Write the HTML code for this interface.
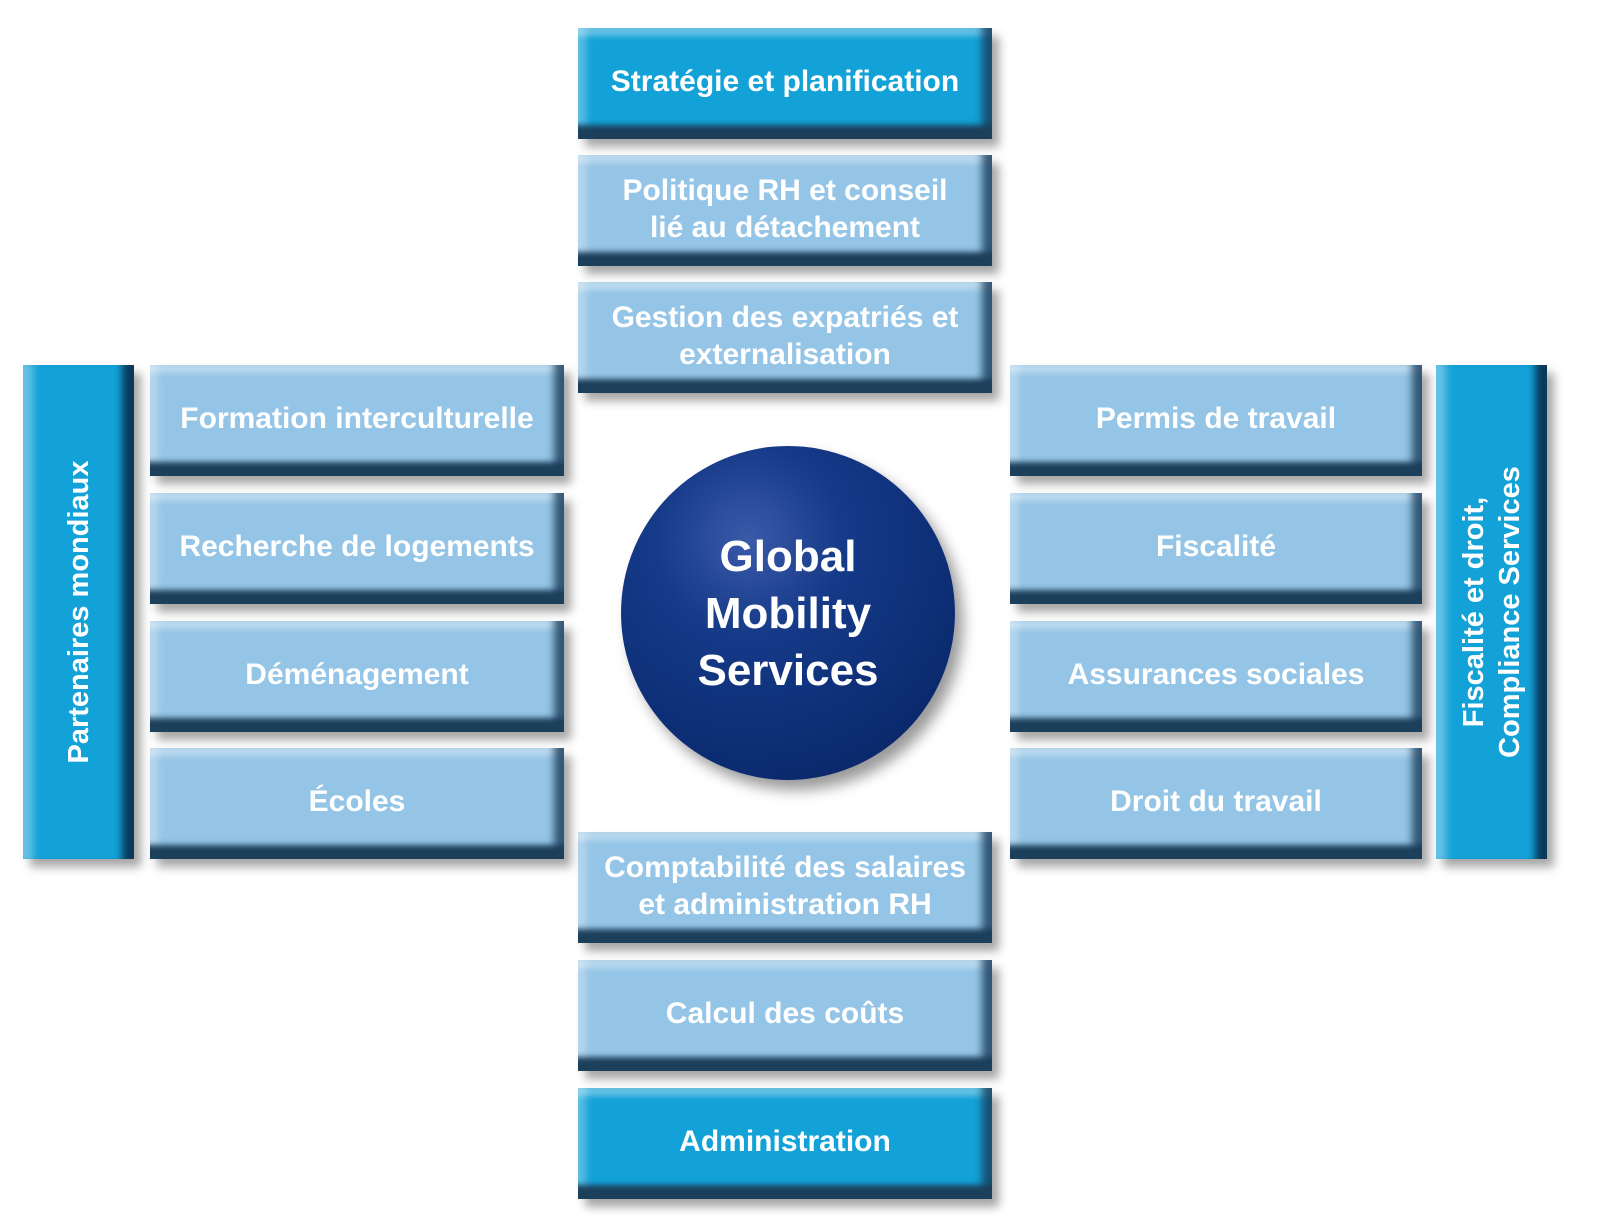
<!DOCTYPE html>
<html><head><meta charset="utf-8"><style>
body{margin:0;width:1610px;height:1221px;background:#fff;position:relative;overflow:hidden;font-family:"Liberation Sans",sans-serif}
.b{position:absolute;display:flex;align-items:center;justify-content:center;text-align:center;color:#fff;font-weight:bold;font-size:30px;line-height:37px;box-sizing:border-box;padding-bottom:4px;
box-shadow:7px 8px 9px rgba(0,0,0,.35),inset 0 -20px 6px -6px #1c3f5a,inset -16px 0 8px -6px rgba(25,60,90,.8),inset 0 12px 6px -4px rgba(255,255,255,.35),inset 14px 0 8px -6px rgba(255,255,255,.3)}
.l{background:#95c5e6}
.d{background:#13a2d8}
.v{position:absolute;background:#13a2d8;box-shadow:7px 8px 9px rgba(0,0,0,.35),inset -18px 0 8px -6px #0b3a5a,inset 16px 0 8px -6px rgba(255,255,255,.35)}
.vt{position:absolute;left:50%;top:50%;transform:translate(-50%,-50%) rotate(-90deg);white-space:nowrap;color:#fff;font-weight:bold;font-size:29px;line-height:36px;text-align:center}
.c{position:absolute;left:621px;top:446px;width:334px;height:334px;border-radius:50%;background:radial-gradient(circle at 38% 28%,#3a5aa8 0%,#153a88 30%,#0c2c72 70%,#08205a 100%);box-shadow:8px 10px 14px rgba(0,0,0,.4);display:flex;align-items:center;justify-content:center;text-align:center;color:#fff;font-weight:bold;font-size:44px;line-height:57px}
</style></head><body>
<div class="b d" style="left:578px;top:28px;width:414px;height:111px">Stratégie et planification</div>
<div class="b l" style="left:578px;top:155px;width:414px;height:111px">Politique RH et conseil<br>lié au détachement</div>
<div class="b l" style="left:578px;top:282px;width:414px;height:111px">Gestion des expatriés et<br>externalisation</div>
<div class="b l" style="left:578px;top:832px;width:414px;height:111px">Comptabilité des salaires<br>et administration RH</div>
<div class="b l" style="left:578px;top:960px;width:414px;height:111px">Calcul des coûts</div>
<div class="b d" style="left:578px;top:1088px;width:414px;height:111px">Administration</div>

<div class="b l" style="left:150px;top:365px;width:414px;height:111px">Formation interculturelle</div>
<div class="b l" style="left:150px;top:493px;width:414px;height:111px">Recherche de logements</div>
<div class="b l" style="left:150px;top:621px;width:414px;height:111px">Déménagement</div>
<div class="b l" style="left:150px;top:748px;width:414px;height:111px">Écoles</div>

<div class="b l" style="left:1010px;top:365px;width:412px;height:111px">Permis de travail</div>
<div class="b l" style="left:1010px;top:493px;width:412px;height:111px">Fiscalité</div>
<div class="b l" style="left:1010px;top:621px;width:412px;height:111px">Assurances sociales</div>
<div class="b l" style="left:1010px;top:748px;width:412px;height:111px">Droit du travail</div>

<div class="v" style="left:23px;top:365px;width:111px;height:494px"><div class="vt">Partenaires mondiaux</div></div>
<div class="v" style="left:1436px;top:365px;width:111px;height:494px"><div class="vt">Fiscalité et droit,<br>Compliance Services</div></div>

<div class="c">Global<br>Mobility<br>Services</div>
</body></html>
